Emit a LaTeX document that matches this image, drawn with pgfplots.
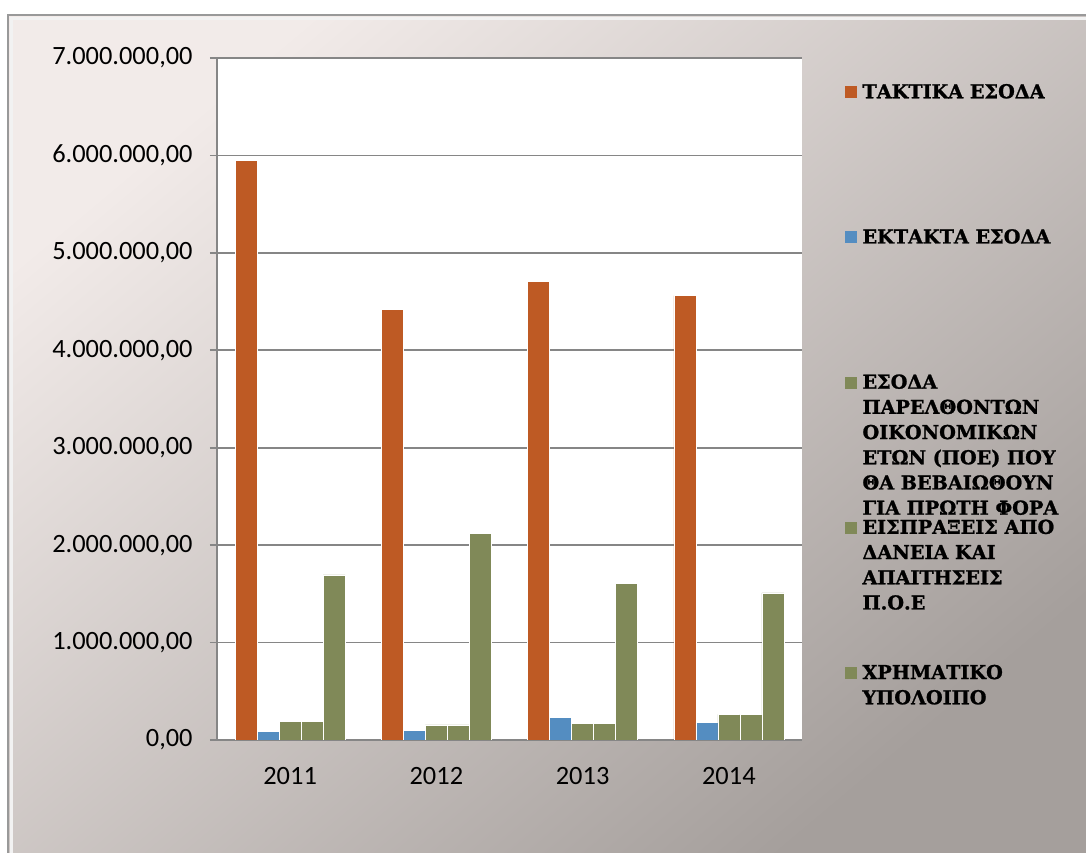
\documentclass[border=0pt]{standalone}
\usepackage{pgfplots}
\pgfplotsset{compat=1.18}
\usepackage{fontspec}
\setmainfont{Carlito}
\newfontfamily\legfont{DejaVu Serif}[BoldFeatures={FakeBold=1.2}]

\definecolor{takt}{RGB}{190,90,36}
\definecolor{ekt}{RGB}{84,141,193}
\definecolor{olive}{RGB}{128,137,88}
\definecolor{bgtop}{RGB}{242,235,233}
\definecolor{bgbot}{RGB}{165,159,156}
\definecolor{gridgray}{RGB}{134,134,134}

\newcommand{\legtext}[1]{\parbox[t][72.6bp][t]{120bp}{\legfont\bfseries\fontsize{9.6bp}{12.6bp}\selectfont\rule{0pt}{8bp}#1}}

\begin{document}
\begin{tikzpicture}
% background panel (1px = 0.5bp, origin at lower left of plot area)
\useasboundingbox (-108.5bp,-56.5bp) rectangle (434.5bp,370bp);
\shade[top color=bgtop, bottom color=bgbot, shading angle=40]
  (-104.5bp,-56.5bp) rectangle (434.5bp,362.5bp);
\draw[gray!80, line width=1.2bp] (-104.5bp,-56.5bp) -- (-104.5bp,362.5bp) -- (434.5bp,362.5bp);
\draw[white!90!gray, line width=1.5bp] (-102.5bp,-56.5bp) -- (-102.5bp,360.5bp) -- (434.5bp,360.5bp);

\begin{axis}[
    scale only axis,
    width=292.5bp, height=341bp,
    at={(0,0)}, anchor=south west,
    axis background/.style={fill=white},
    ybar=0pt, bar width=11bp,
    xmin=-0.5, xmax=3.5,
    ymin=0, ymax=7000000,
    axis x line*=bottom, axis y line*=left,
    axis line style={draw=gridgray, line width=0.9bp},
    xtick={0,1,2,3},
    xticklabels={2011,2012,2013,2014},
    xtick style={draw=none},
    extra x ticks={-0.5,0.5,1.5,2.5,3.5},
    extra x tick labels={},
    extra x tick style={tick style={draw=gridgray, line width=0.9bp}, major tick length=4bp},
    ytick={0,1000000,2000000,3000000,4000000,5000000,6000000,7000000},
    yticklabels={{0,00},{1.000.000,00},{2.000.000,00},{3.000.000,00},{4.000.000,00},{5.000.000,00},{6.000.000,00},{7.000.000,00}},
    scaled y ticks=false,
    tick align=outside,
    major tick length=3.5bp,
    ytick style={draw=gridgray, line width=0.9bp},
    ymajorgrids=true,
    grid style={draw=gridgray, line width=0.9bp},
    tick label style={font=\fontsize{13.2bp}{15bp}\selectfont, inner sep=0pt},
    yticklabel style={xshift=-8.5bp},
    xticklabel style={yshift=-10bp},
    legend style={
        at={(1.072,0.965)}, anchor=north west,
        draw=none, fill=none, inner sep=0pt,
        row sep=0pt, column sep=3bp,
        nodes={inner sep=0pt, text depth={}},
        cells={anchor=base west},
    },
    legend image code/.code={\fill[#1,draw=none] (0bp,0bp) rectangle (6bp,6bp);},
]
\addplot[fill=takt, draw=white, line width=0.3bp] coordinates {(0,5950000) (1,4420000) (2,4710000) (3,4560000)};
\addlegendentry{\legtext{ΤΑΚΤΙΚΑ ΕΣΟΔΑ}}
\addplot[fill=ekt, draw=white, line width=0.3bp] coordinates {(0,85000) (1,95000) (2,229000) (3,182000)};
\addlegendentry{\legtext{ΕΚΤΑΚΤΑ ΕΣΟΔΑ}}
\addplot[fill=olive, draw=white, line width=0.3bp] coordinates {(0,188000) (1,154000) (2,167000) (3,264000)};
\addlegendentry{\legtext{ΕΣΟΔΑ\\ΠΑΡΕΛΘΟΝΤΩΝ\\ΟΙΚΟΝΟΜΙΚΩΝ\\ΕΤΩΝ (ΠΟΕ) ΠΟΥ\\ΘΑ ΒΕΒΑΙΩΘΟΥΝ\\ΓΙΑ ΠΡΩΤΗ ΦΟΡΑ}}
\addplot[fill=olive, draw=white, line width=0.3bp] coordinates {(0,188000) (1,154000) (2,167000) (3,264000)};
\addlegendentry{\legtext{ΕΙΣΠΡΑΞΕΙΣ ΑΠΟ\\ΔΑΝΕΙΑ ΚΑΙ\\ΑΠΑΙΤΗΣΕΙΣ\\Π.Ο.Ε}}
\addplot[fill=olive, draw=white, line width=0.3bp] coordinates {(0,1694000) (1,2121000) (2,1610000) (3,1510000)};
\addlegendentry{\legtext{ΧΡΗΜΑΤΙΚΟ\\ΥΠΟΛΟΙΠΟ}}
\end{axis}
\end{tikzpicture}
\end{document}
